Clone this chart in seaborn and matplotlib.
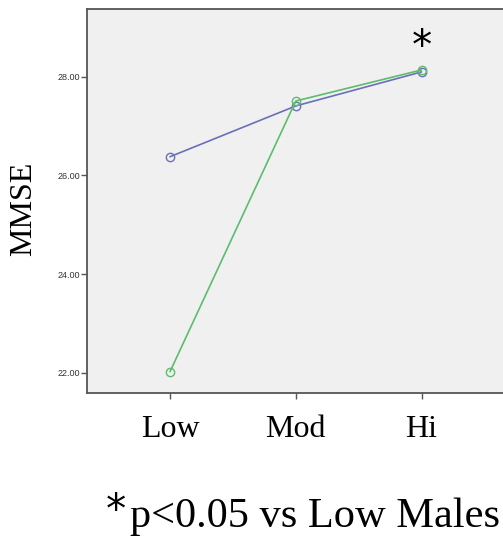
import matplotlib
matplotlib.use("Agg")
import matplotlib.pyplot as plt
import pandas as pd
import seaborn as sns

# Datos
niveles = ["Low", "Mod", "Hi"]
grupos = ["Males", "Females"]
mmse_males = [26.38, 27.41, 28.10]
mmse_females = [22.02, 27.51, 28.14]
etiquetas_y = ["22.00", "24.00", "26.00", "28.00"]
valores_y = [22, 24, 26, 28]

df = pd.DataFrame({
    "pos": list(range(len(niveles))) * 2,
    "MMSE": mmse_males + mmse_females,
    "grupo": [grupos[0]] * 3 + [grupos[1]] * 3,
})

sns.set_style("white")
plt.rcParams["text.color"] = "black"

colores = {"Males": "#6a70b8", "Females": "#5cbd6c"}

fig = plt.figure(figsize=(5.03, 5.51), dpi=100)
ax = fig.add_axes([0.173, 0.287, 0.83, 0.697])
ax.set_facecolor("#f0f0f0")

sns.lineplot(data=df, x="pos", y="MMSE", hue="grupo", hue_order=grupos,
             palette=colores, marker="o", markersize=6, linewidth=1.2,
             legend=False, ax=ax)

# circulos abiertos del mismo color que la linea
for linea in ax.lines:
    linea.set_markerfacecolor("none")
    linea.set_markeredgecolor(linea.get_color())
    linea.set_markeredgewidth(1.0)

ax.set_xlim(-0.66, 2.66)
ax.set_ylim(21.59, 29.38)
ax.set_xticks(range(len(niveles)))
ax.set_xticklabels(niveles, fontsize=23, family="Liberation Serif", color="black")
ax.set_yticks(valores_y)
ax.set_yticklabels(etiquetas_y, fontsize=6.5, family="Liberation Sans", color="#333333")
ax.tick_params(axis="both", direction="out", length=4, width=1, color="#555555", bottom=True, left=True)
ax.tick_params(axis="x", pad=12)
ax.tick_params(axis="y", pad=1)

ax.set_xlabel("")
ax.set_ylabel("MMSE", fontsize=23, family="Liberation Serif", color="black")
ax.yaxis.set_label_coords(-0.118, 0.48)

for s in ax.spines.values():
    s.set_color("#555555")
    s.set_linewidth(1.3)

# asterisco sobre Hi
ax.text(2, 28.58, "*", fontsize=29, ha="center", va="center", family="DejaVu Sans", color="black")

# nota al pie
fig.text(0.231, 0.071, "*", fontsize=29, ha="center", va="center", family="DejaVu Sans", color="black")
fig.text(0.258, 0.044, "p<0.05 vs Low Males", fontsize=30.5, ha="left", va="baseline",
         family="Liberation Serif", color="black")

fig.savefig("out.png", dpi=100)
